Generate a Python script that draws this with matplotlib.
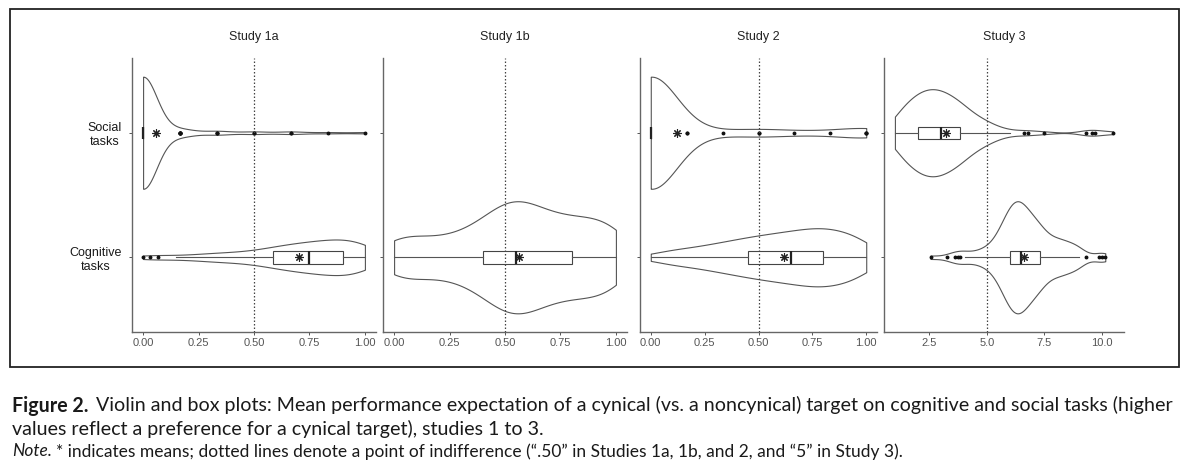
import numpy as np
import matplotlib
matplotlib.use("Agg")
import matplotlib.pyplot as plt
from matplotlib import cbook
from matplotlib.patches import Rectangle

plt.rcParams['font.family'] = ['Liberation Sans', 'DejaVu Sans']

# ---- estimated responses (value, number of participants) ----
# Study 1a
s1a_soc_vals = [0, 1/6, 1/3, 1/2, 2/3, 5/6, 1]
s1a_soc_n = [90, 6, 3, 2, 2, 1, 1]
s1a_cog_vals = [0, 0.033, 0.067, 0.15, 0.2, 0.25, 0.3, 0.35, 0.4, 0.45, 0.5,
                0.55, 0.6, 0.65, 0.7, 0.75, 0.8, 0.85, 0.9, 0.95, 1.0]
s1a_cog_n = [1, 1, 1, 1, 1, 1, 2, 2, 2, 2, 3, 3, 5, 5, 6, 6, 7, 7, 8, 7, 9]

# Study 1b (only cognitive tasks)
s1b_cog_vals = [0, 0.05, 0.1, 0.15, 0.2, 0.25, 0.3, 0.35, 0.4, 0.45, 0.5,
                0.55, 0.6, 0.65, 0.7, 0.75, 0.8, 0.85, 0.9, 0.95, 1.0]
s1b_cog_n = [8, 4, 4, 4, 4, 4, 5, 6, 7, 10, 12, 13, 12, 9, 9, 8, 8, 8, 8, 7, 11]

# Study 2
s2_soc_vals = [0, 1/6, 1/3, 1/2, 2/3, 5/6, 1]
s2_soc_n = [40, 2, 1, 2, 1, 1, 3]
s2_cog_vals = [0, 0.05, 0.1, 0.15, 0.2, 0.25, 0.3, 0.35, 0.4, 0.45, 0.5,
               0.55, 0.6, 0.65, 0.7, 0.75, 0.8, 0.85, 0.9, 0.95, 1.0]
s2_cog_n = [1, 2, 3, 3, 3, 4, 5, 5, 6, 7, 7, 8, 8, 9, 9, 10, 11, 9, 9, 8, 7]

# Study 3 (0-10 scale)
s3_soc_vals = [1.0, 1.25, 1.5, 1.75, 2.0, 2.25, 2.5, 2.75, 3.0, 3.25, 3.5,
               3.75, 4.0, 4.25, 4.5, 4.75, 5.0, 5.25, 5.5, 5.75, 6.0,
               6.6, 6.8, 7.5, 9.3, 9.6, 9.7, 10.5]
s3_soc_n = [5, 5, 7, 8, 9, 10, 10, 10, 10, 9, 8, 8, 6, 5, 4, 3, 3, 2, 1, 1, 1,
            1, 1, 1, 1, 1, 1, 1]
s3_cog_vals = [2.55, 3.26, 3.61, 3.73, 3.85, 4.07,
               4.25, 4.5, 4.75, 5.0, 5.25, 5.5, 5.75, 6.0, 6.25, 6.5, 6.75,
               7.0, 7.25, 7.5, 7.75, 8.0, 8.25, 8.5, 8.75, 9.0,
               9.32, 9.9, 10.02, 10.16]
s3_cog_n = [1, 1, 1, 1, 1, 1,
            1, 1, 2, 2, 3, 5, 8, 11, 13, 12, 10, 8, 8, 5, 4, 4, 4, 3, 3, 3,
            1, 1, 1, 1]

titles = ['Study 1a', 'Study 1b', 'Study 2', 'Study 3']
social = [(s1a_soc_vals, s1a_soc_n), None, (s2_soc_vals, s2_soc_n), (s3_soc_vals, s3_soc_n)]
cognitive = [(s1a_cog_vals, s1a_cog_n), (s1b_cog_vals, s1b_cog_n),
             (s2_cog_vals, s2_cog_n), (s3_cog_vals, s3_cog_n)]
indifference = [0.5, 0.5, 0.5, 5]
row_labels = ['Cognitive\ntasks', 'Social\ntasks']


def bw_nrd0(x):
    # same rule as R's default for geom_violin
    sd = np.std(x, ddof=1)
    q75, q25 = np.percentile(x, [75, 25])
    lo = min(sd, (q75 - q25) / 1.34)
    if lo == 0:
        lo = sd
    return 0.9 * lo * len(x) ** -0.2


def kde(x, coords):
    h = bw_nrd0(x)
    z = (coords[:, None] - x[None, :]) / h
    return np.exp(-0.5 * z ** 2).sum(axis=1) / (len(x) * h * np.sqrt(2 * np.pi))


W, H = 1189, 467
fig = plt.figure(figsize=(W / 100, H / 100), dpi=100)
panels = [(132, 244), (383, 244), (640, 237), (884, 240)]
top, bottom = 58, 332
line_c = '#555555'

for i in range(4):
    left, width = panels[i]
    ax = fig.add_axes([left / W, 1 - bottom / H, width / W, (bottom - top) / H])
    pos, data = [], []
    if social[i] is not None:
        pos.append(2)
        data.append(np.repeat(np.array(social[i][0], float), social[i][1]))
    pos.append(1)
    data.append(np.repeat(np.array(cognitive[i][0], float), cognitive[i][1]))

    vstats = cbook.violin_stats(data, kde, points=512)
    peaks = [s['vals'].max() for s in vstats]
    widths = [0.9 * p / max(peaks) for p in peaks]  # scale="area"
    parts = ax.violin(vstats, positions=pos, orientation='horizontal',
                      widths=widths, showextrema=False)
    for b in parts['bodies']:
        b.set_facecolor('white')
        b.set_edgecolor(line_c)
        b.set_linewidth(0.8)
        b.set_alpha(1)

    bstats = [cbook.boxplot_stats(d, whis=1.5)[0] for d in data]
    ax.bxp(bstats, positions=pos, widths=0.1, orientation='horizontal',
           patch_artist=True, showcaps=False, showmeans=True,
           boxprops=dict(facecolor='white', edgecolor='#444444', linewidth=0.8),
           whiskerprops=dict(color=line_c, linewidth=0.8),
           medianprops=dict(color='#222222', linewidth=1.6),
           flierprops=dict(marker='o', markersize=1.8, markerfacecolor='#111111',
                           markeredgecolor='#111111'),
           meanprops=dict(marker=(8, 2, 0), markersize=6, markeredgecolor='#222222',
                          markeredgewidth=0.8, markerfacecolor='none'))

    ax.axvline(indifference[i], color='#444444', lw=0.9, ls=(0, (1.2, 1.6)), zorder=5)

    allx = np.concatenate(data)
    lo, hi = allx.min(), allx.max()
    pad = 0.05 * (hi - lo)
    ax.set_xlim(lo - pad, hi + pad)
    ax.set_ylim(0.4, 2.6)
    if i < 3:
        ticks = [0, 0.25, 0.5, 0.75, 1.0]
        ax.set_xticks(ticks, [f'{t:.2f}' for t in ticks])
    else:
        ticks = [2.5, 5.0, 7.5, 10.0]
        ax.set_xticks(ticks, [f'{t:.1f}' for t in ticks])
    ax.set_yticks([1, 2])
    if i == 0:
        ax.set_yticklabels(row_labels, fontsize=9, color='#1a1a1a',
                           multialignment='center')
    else:
        ax.set_yticklabels([])
    ax.tick_params(axis='x', length=2.5, width=0.7, color=line_c, pad=2,
                   labelsize=8, labelcolor='#555555')
    ax.tick_params(axis='y', length=2.5, width=0.7, color=line_c, pad=5)
    for s in ['top', 'right']:
        ax.spines[s].set_visible(False)
    for s in ['left', 'bottom']:
        ax.spines[s].set_color('#666666')
        ax.spines[s].set_linewidth(1.0)
    ax.set_title(titles[i], fontsize=9, color='#222222', pad=13)

# frame around the figure panel
fig.patches.append(Rectangle((10 / W, 1 - 367 / H), 1169 / W, 358 / H,
                             transform=fig.transFigure, fill=False,
                             edgecolor='#222222', linewidth=1.3))

# caption
cap_font = ['Lato', 'Open Sans', 'DejaVu Sans']
renderer = fig.canvas.get_renderer()


def caption_line(y, pieces, size, draw=True):
    x = 12
    made = []
    for txt, weight, style, gap in pieces:
        t = fig.text(x / W, 1 - y / H, txt, fontsize=size, fontweight=weight,
                     fontstyle=style, family=cap_font, color='#1a1a1a',
                     va='baseline', ha='left')
        x += t.get_window_extent(renderer).width + gap * size
        made.append(t)
    if not draw:
        for t in made:
            t.remove()
    return x - 12


line1 = [('Figure 2.', 'bold', 'normal', 0.55),
         ('Violin and box plots: Mean performance expectation of a cynical (vs. a noncynical) '
          'target on cognitive and social tasks (higher', 'normal', 'normal', 0)]
line2 = [('values reflect a preference for a cynical target), studies 1 to 3.',
          'normal', 'normal', 0)]
line3 = [('Note.', 'normal', 'italic', 0.3),
         ('* indicates means; dotted lines denote a point of indifference '
          '(\u201c.50\u201d in Studies 1a, 1b, and 2, and \u201c5\u201d in Study 3).',
          'normal', 'normal', 0)]

s1 = 13 * 1158 / caption_line(411.5, line1, 13, draw=False)
caption_line(411.5, line1, s1)
caption_line(435, line2, s1)
s3 = 11 * 886 / caption_line(456.5, line3, 11, draw=False)
caption_line(456.5, line3, s3)

fig.savefig('out.png', dpi=100)
